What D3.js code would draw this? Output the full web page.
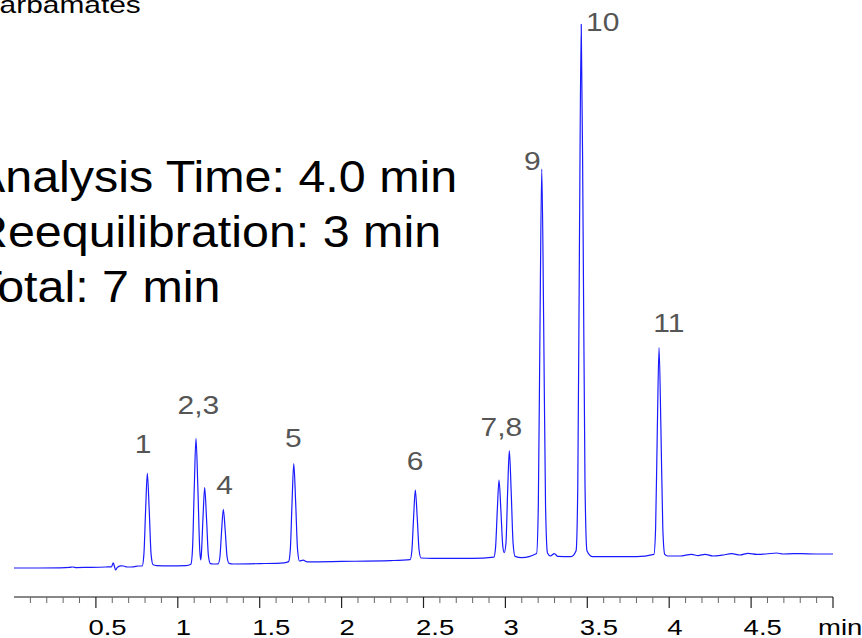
<!DOCTYPE html>
<html>
<head>
<meta charset="utf-8">
<script src="https://cdn.jsdelivr.net/npm/d3@7"></script>
<style>
  html, body { margin: 0; padding: 0; background: #fff; }
  svg { display: block; }
  text { font-family: "Liberation Sans", Arial, Helvetica, sans-serif; }
</style>
</head>
<body>
<svg id="chart" width="862" height="638"></svg>
<script>
// ---- Data (time in min, detector signal in arbitrary units) ----
const retentionTime = [
  0.000, 0.150, 0.280, 0.340, 0.360, 0.380, 0.450, 0.560, 0.595, 0.606, 0.614, 0.620, 0.630, 0.650, 0.670, 0.690, 0.730, 0.760,
  0.7825, 0.793, 0.8035, 0.814, 0.8255, 0.837, 0.849, 0.870, 0.950, 1.050,
  1.080, 1.090, 1.1005, 1.111, 1.1225, 1.134, 1.140,
  1.1435, 1.1535, 1.164, 1.1755, 1.187, 1.199, 1.215,
  1.2465, 1.257, 1.2675, 1.278, 1.2895, 1.301, 1.313, 1.340, 1.500, 1.650,
  1.6765, 1.687, 1.6975, 1.708, 1.7195, 1.731, 1.743, 1.765, 1.790, 2.000, 2.300,
  2.4185, 2.429, 2.4395, 2.450, 2.4615, 2.473, 2.485, 2.550, 2.800,
  2.9295, 2.940, 2.9505, 2.961, 2.9725, 2.984, 2.993,
  3.0035, 3.0135, 3.024, 3.0355, 3.047, 3.059, 3.100,
  3.1905, 3.201, 3.2115, 3.222, 3.2335, 3.245, 3.257, 3.275, 3.299, 3.320, 3.400,
  3.4315, 3.442, 3.4525, 3.463, 3.4745, 3.486, 3.498, 3.530, 3.800,
  3.9065, 3.917, 3.9275, 3.938, 3.9495, 3.961, 3.973, 3.990,
  4.066, 4.137, 4.176, 4.219, 4.267, 4.322, 4.382, 4.432, 4.481, 4.534, 4.591, 4.656, 4.695, 4.756, 4.809, 4.890, 5.000
];
const detectorSignal = [
  0.0, 0.0, 0.1, 0.3, 0.5, 0.2, 0.3, 0.5, 0.6, 2.6, 0.5, -1.0, 0.2, 1.1, 1.0, 0.5, 0.6, 1.0,
  1.0, 6.8, 29.0, 47.3, 29.0, 6.8, 1.6, 1.2, 1.1, 1.2,
  1.9, 9.8, 40.0, 64.85, 40.0, 9.0, 4.0,
  6.5, 24.5, 40.15, 24.5, 6.0, 2.2, 2.0,
  2.1, 5.5, 18.6, 29.35, 18.6, 5.5, 2.3, 2.0, 2.2, 2.6,
  3.2, 9.3, 32.8, 52.15, 32.8, 9.3, 3.5, 3.9, 3.1, 3.3, 3.7,
  4.2, 8.6, 25.2, 39.0, 25.5, 9.0, 5.0, 4.8, 4.8,
  5.4, 10.3, 28.8, 44.0, 28.8, 11.0, 7.65,
  12.5, 37.7, 58.65, 37.7, 12.3, 5.8, 5.2,
  7.3, 31.4, 123.7, 199.5, 123.7, 31.4, 7.5, 6.0, 7.2, 5.8, 5.65,
  8.6, 41.6, 168.0, 271.85, 168.0, 41.6, 8.6, 5.7, 5.65,
  6.8, 19.8, 69.4, 110.15, 69.4, 19.8, 6.8, 6.0,
  6.0, 6.85, 6.2, 6.85, 6.0, 6.4, 7.15, 6.5, 7.35, 6.85, 7.0, 7.5, 7.0, 7.15, 7.15, 7.0, 7.0
];

// Peak labels (anchored at a time / signal level above each peak)
const peakLabels = ["1", "2,3", "4", "5", "6", "7,8", "9", "10", "11"];
const peakLabelTime = [0.788, 1.126, 1.286, 1.705, 2.448, 2.975, 3.164, 3.594, 3.998];
const peakLabelSignal = [57.4, 77.0, 37.0, 60.7, 49.0, 66.2, 199.0, 268.7, 117.9];

// Axis ticks
const majorTicks = [0.5, 1, 1.5, 2, 2.5, 3, 3.5, 4, 4.5, 5];
const minorTicks = [0.1, 0.2, 0.3, 0.4, 0.6, 0.7, 0.8, 0.9, 1.1, 1.2, 1.3, 1.4, 1.6, 1.7, 1.8, 1.9,
  2.1, 2.2, 2.3, 2.4, 2.6, 2.7, 2.8, 2.9, 3.1, 3.2, 3.3, 3.4, 3.6, 3.7, 3.8, 3.9,
  4.1, 4.2, 4.3, 4.4, 4.6, 4.7, 4.8, 4.9];
const tickLabels = ["0.5", "1", "1.5", "2", "2.5", "3", "3.5", "4", "4.5", "min"];

// Annotation texts
const titleText = "Carbamates";
const infoLines = ["Analysis Time: 4.0 min", "Reequilibration: 3 min", "Total: 7 min"];

// ---- Drawing ----
const svg = d3.select("#chart");
svg.append("rect").attr("width", 862).attr("height", 638).attr("fill", "#fff");

const x = d3.scaleLinear().domain([0, 5]).range([14, 833]);
const y = d3.scaleLinear().domain([0, 280]).range([568, 8]);

const points = retentionTime.map((t, i) => [t, detectorSignal[i]]);
const line = d3.line().x(d => x(d[0])).y(d => y(d[1])).curve(d3.curveMonotoneX);

svg.append("path")
  .datum(points)
  .attr("d", line)
  .attr("fill", "none")
  .attr("stroke", "#1a1aff")
  .attr("stroke-width", 1.2)
  .attr("stroke-linejoin", "round");

// x axis
const axisY = 597;
const gAxis = svg.append("g").attr("transform", `translate(0,${axisY})`);
gAxis.append("line").attr("x1", x(0)).attr("x2", x(5)).attr("y1", 0).attr("y2", 0)
  .attr("stroke", "#111").attr("stroke-width", 1.2);
gAxis.selectAll("line.minor").data(minorTicks).enter().append("line")
  .attr("class", "minor")
  .attr("x1", d => x(d)).attr("x2", d => x(d))
  .attr("y1", 0).attr("y2", 6)
  .attr("stroke", "#666").attr("stroke-width", 1);
gAxis.selectAll("line.major").data(majorTicks).enter().append("line")
  .attr("class", "major")
  .attr("x1", d => x(d)).attr("x2", d => x(d))
  .attr("y1", 0).attr("y2", 11)
  .attr("stroke", "#222").attr("stroke-width", 1.2);
gAxis.selectAll("text.tl").data(majorTicks).enter().append("text")
  .attr("class", "tl")
  .attr("transform", (d, i) => {
    const lab = tickLabels[i];
    let dx = lab.includes(".") ? -7.5 : -2;
    if (lab === "min") dx = -15;
    return `translate(${x(d) + dx},38) scale(1.25,1)`;
  })
  .attr("font-size", 22)
  .attr("fill", "#000")
  .text((d, i) => tickLabels[i]);

// peak labels
svg.selectAll("text.peak").data(peakLabels).enter().append("text")
  .attr("class", "peak")
  .attr("transform", (d, i) => `translate(${x(peakLabelTime[i])},${y(peakLabelSignal[i])}) scale(1.2,1)`)
  .attr("text-anchor", "middle")
  .attr("font-size", 25)
  .attr("fill", "#555")
  .text(d => d);

// title (partially cut off at left edge, as in the reference)
svg.append("text")
  .attr("transform", "translate(-22,13) scale(1.3,1)")
  .attr("font-size", 23)
  .attr("fill", "#000")
  .text(titleText);

// info block (partially cut off at left edge, as in the reference)
svg.selectAll("text.info").data(infoLines).enter().append("text")
  .attr("class", "info")
  .attr("transform", (d, i) => `translate(-27,${192 + i * 55}) scale(1.1,1)`)
  .attr("font-size", 44)
  .attr("fill", "#000")
  .text(d => d);
</script>
</body>
</html>
